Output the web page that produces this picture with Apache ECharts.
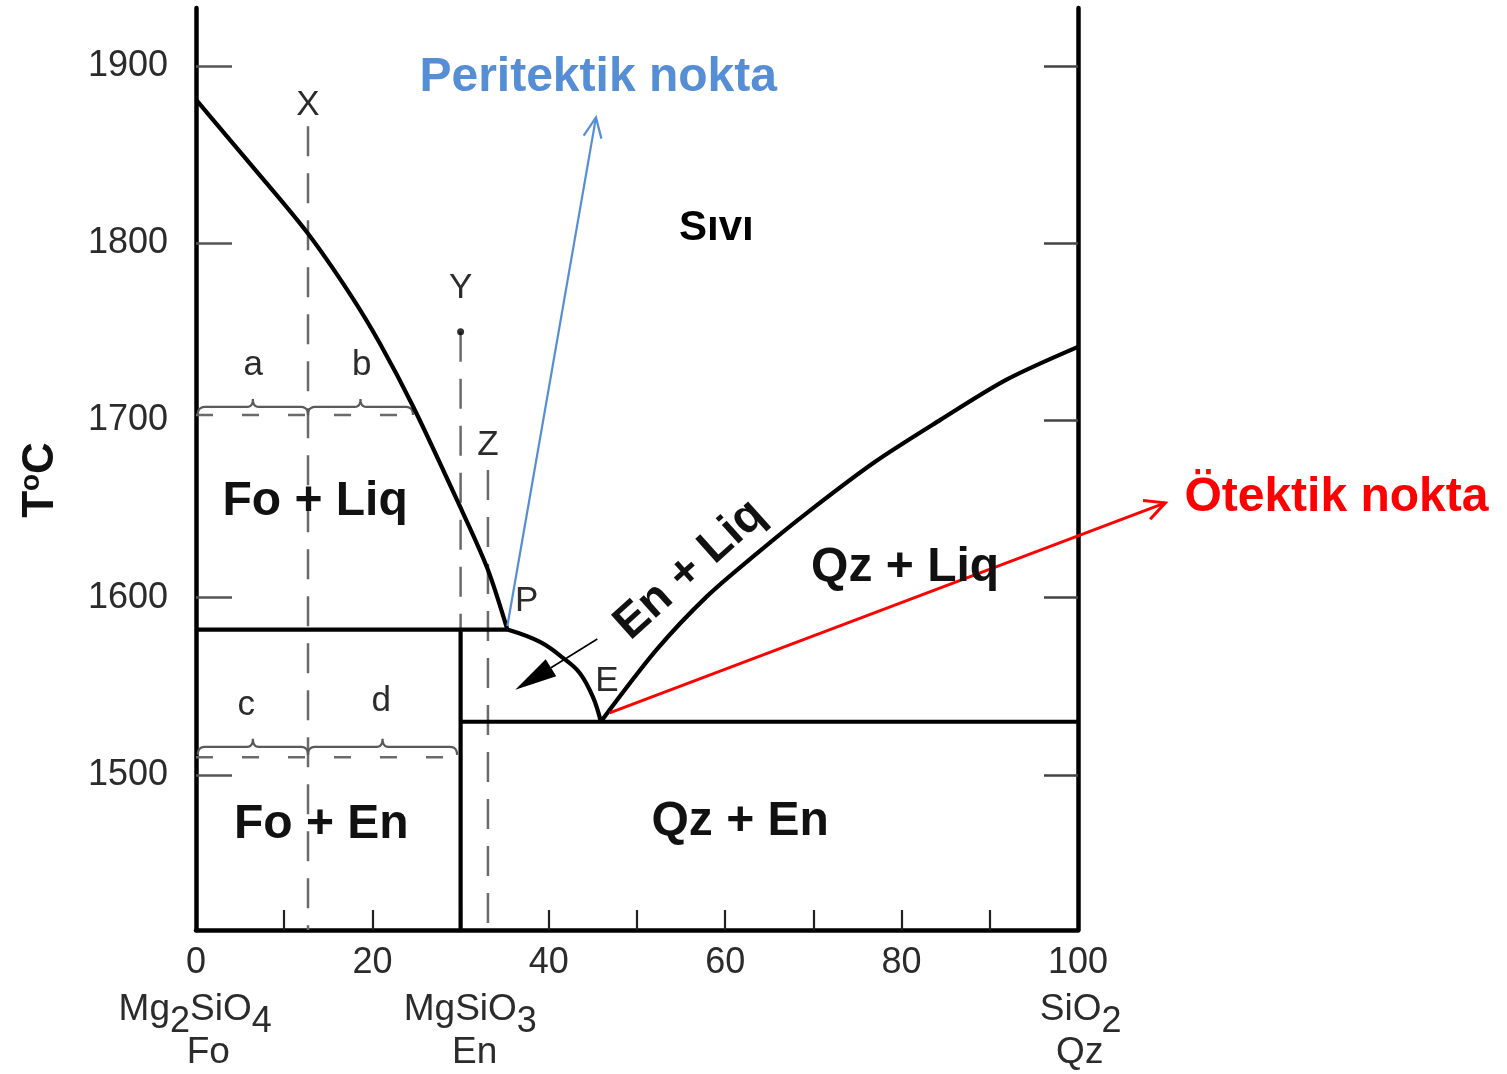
<!DOCTYPE html>
<html><head><meta charset="utf-8">
<script src="https://cdn.jsdelivr.net/npm/echarts@6/dist/echarts.min.js"></script>
<style>html,body{margin:0;padding:0;background:#fff}#c{width:1507px;height:1074px}</style>
</head><body><div id="c"></div>
<script>
// ---- axis values ----
const xTickLabels = [0, 20, 40, 60, 80, 100];
const xTickMarks = [10, 20, 30, 40, 50, 60, 70, 80, 90];
const yTickLabels = [1500, 1600, 1700, 1800, 1900];
const yTickMarksLeft = [1500, 1600, 1800, 1900];
const yTickMarksRight = [1500, 1600, 1700, 1800, 1900];
const yMin = 1412.5, yMax = 1932.7;

// ---- phase boundaries (wt% SiO2, T °C) ----
const foLiquidusX = [0, 6.1, 12.6, 17.5, 20.9, 24.6, 29.6, 33.0, 35.3];
const foLiquidusT = [1881, 1845, 1806, 1771, 1743, 1708, 1655, 1617, 1582];
const enLiquidusX = [35.3, 39.0, 41.6, 43.5, 45.0, 45.9];
const enLiquidusT = [1582, 1575, 1566, 1557.5, 1544, 1530];
const qzLiquidusX = [45.9, 52.2, 57.9, 63.6, 69.2, 76.8, 84.4, 91.9, 100];
const qzLiquidusT = [1530, 1570.5, 1600.6, 1625, 1647.6, 1676, 1700.3, 1723, 1741.5];
const peritecticX = [0, 35.3];
const peritecticT = [1582, 1582];
const eutecticX = [30, 100];
const eutecticT = [1530, 1530];
const enstatiteX = [30, 30];
const enstatiteT = [1582, yMin];

// ---- isopleths X, Y, Z ----
const isoX = [12.7, 30.0, 33.1];
const isoTopT = [1866, 1750, 1672];

// ---- cooling levels (dashed) and braces a/b, c/d ----
const levelT = [1703, 1510];
const levelEndX = [24.6, 29.7];
const braceFrom = [0.2, 12.7, 0.2, 12.7];
const braceTo = [12.7, 24.6, 12.7, 29.6];
const braceT = [1707.6, 1707.6, 1515.8, 1515.8];

// ---- arrows ----
const blueArrow = [35.3, 1584, 45.35, 1871];
const redArrow = [46.9, 1535, 109.9, 1653.5];
const blackArrow = [45.5, 1576.7, 36.2, 1548];
const dotY = [30, 1750];

// ---- texts ----
const labelTexts = ['X', 'Y', 'Z', 'a', 'b', 'c', 'd', 'P', 'E',
  'Fo + Liq', 'Fo + En', 'Qz + En', 'Qz + Liq', 'En + Liq', 'Sıvı',
  'Peritektik nokta', 'Ötektik nokta', '{n|T}{sup|o}{n|C}',
  '{m|Mg}{sub|2}{m|SiO}{sub|4}', 'Fo', '{m|MgSiO}{sub|3}', 'En', '{m|SiO}{sub|2}', 'Qz'];
const labelX = [12.7, 30.0, 33.1, 6.5, 18.8, 5.7, 21.0, 37.5, 46.6,
  13.5, 14.2, 61.7, 80.4, 56.0, 59.0,
  45.6, 129.3, -17.7,
  -0.1, 1.4, 31.1, 31.6, 100.3, 100.2];
const labelT = [1878, 1774.8, 1686.2, 1731.3, 1731.3, 1539.5, 1541.7, 1598.2, 1553,
  1654, 1471.8, 1473.5, 1616.8, 1615.7, 1808.6,
  1893.2, 1656.3, 1666.4,
  1360.5, 1343.2, 1360.5, 1343.2, 1360.5, 1343.2];
const labelKind = ['small', 'small', 'small', 'small', 'small', 'small', 'small', 'small', 'small',
  'phase', 'phase', 'phase', 'phase', 'phaseRot', 'sivi',
  'blue', 'red', 'axisName',
  'compound', 'compound', 'compound', 'compound', 'compound', 'compound'];

const FONT = '"Liberation Sans", Arial, Helvetica, sans-serif';
const kindStyle = {
  small: {fontSize: 35, fontWeight: 'normal', fill: '#2b2b2b'},
  phase: {fontSize: 48, fontWeight: 'bold', fill: '#111'},
  phaseRot: {fontSize: 47, fontWeight: 'bold', fill: '#111', rot: 42},
  sivi: {fontSize: 42, fontWeight: 'bold', fill: '#000'},
  blue: {fontSize: 48, fontWeight: 'bold', fill: '#558ed5'},
  red: {fontSize: 48, fontWeight: 'bold', fill: '#ff0000'},
  axisName: {fontSize: 44, fontWeight: 'bold', fill: '#111', rot: 90},
  compound: {fontSize: 37, fontWeight: 'normal', fill: '#2b2b2b'}
};
const richStyles = {
  n: {fontSize: 44, fontWeight: 'bold', fontFamily: FONT, fill: '#111', lineHeight: 46, verticalAlign: 'bottom'},
  sup: {fontSize: 28, fontWeight: 'bold', fontFamily: FONT, fill: '#111', lineHeight: 30, verticalAlign: 'top'},
  m: {fontSize: 37, fontFamily: FONT, fill: '#2b2b2b', lineHeight: 40, verticalAlign: 'top'},
  sub: {fontSize: 36, fontFamily: FONT, fill: '#2b2b2b', lineHeight: 62, verticalAlign: 'middle'}
};

function pairs(xs, ts) { return xs.map((x, i) => [x, ts[i]]); }

const chart = echarts.init(document.getElementById('c'), null, {renderer: 'canvas'});

const solid = (name, xs, ts, smooth) => ({
  type: 'line', name, data: pairs(xs, ts), symbol: 'none', silent: true, clip: false,
  smooth: smooth || false,
  lineStyle: {color: '#000', width: 4.2, cap: 'butt'}, z: 5
});
const dashedV = isoX.map((x, i) => ({
  type: 'line', data: [[x, isoTopT[i]], [x, yMin]], symbol: 'none', silent: true,
  lineStyle: {color: '#6a6a6a', width: 2.5, type: [30, 17]}, z: 3
}));
const dashedH = levelT.map((t, i) => ({
  type: 'line', data: [[0, t], [levelEndX[i], t]], symbol: 'none', silent: true,
  lineStyle: {color: '#6a6a6a', width: 2.5, type: [17, 29]}, z: 3
}));

function quad(p0, p1, p2, n) {
  const out = [];
  for (let k = 1; k <= n; k++) {
    const s = k / n, a = (1 - s) * (1 - s), b = 2 * (1 - s) * s, c = s * s;
    out.push([a * p0[0] + b * p1[0] + c * p2[0], a * p0[1] + b * p1[1] + c * p2[1]]);
  }
  return out;
}

function braceItem(params, api) {
  const p1 = api.coord([api.value(0), api.value(2)]);
  const p2 = api.coord([api.value(1), api.value(2)]);
  const y = p1[1], x1 = p1[0], x2 = p2[0], m = (x1 + x2) / 2, h = 8;
  let pts = [[x1, y + h]];
  pts = pts.concat(quad([x1, y + h], [x1, y], [x1 + 7, y], 6));
  pts.push([m - 6, y]);
  pts = pts.concat(quad([m - 6, y], [m, y], [m, y - h], 6));
  pts = pts.concat(quad([m, y - h], [m, y], [m + 6, y], 6));
  pts.push([x2 - 7, y]);
  pts = pts.concat(quad([x2 - 7, y], [x2, y], [x2, y + h], 6));
  return {type: 'polyline', shape: {points: pts}, style: {stroke: '#5a5a5a', lineWidth: 2.2, fill: null}};
}

function arrowRenderer(color, width, headLen, headHalf, filled) {
  return function (params, api) {
    const a = api.coord([api.value(0), api.value(1)]);
    const b = api.coord([api.value(2), api.value(3)]);
    const dx = b[0] - a[0], dy = b[1] - a[1], L = Math.hypot(dx, dy);
    const ux = dx / L, uy = dy / L;
    const bx = b[0] - ux * headLen, by = b[1] - uy * headLen;
    const l = [bx - uy * headHalf, by + ux * headHalf];
    const r = [bx + uy * headHalf, by - ux * headHalf];
    const children = [{type: 'line', shape: {x1: a[0], y1: a[1], x2: filled ? bx : b[0], y2: filled ? by : b[1]},
      style: {stroke: color, lineWidth: width}}];
    if (filled) children.push({type: 'polygon', shape: {points: [b, l, r]}, style: {fill: color}});
    else children.push({type: 'polyline', shape: {points: [l, [b[0], b[1]], r]}, style: {stroke: color, lineWidth: width, fill: null}});
    return {type: 'group', children};
  };
}

function labelItem(params, api) {
  const i = params.dataIndex;
  const st = kindStyle[labelKind[i]];
  const p = api.coord([api.value(0), api.value(1)]);
  return {
    type: 'text', x: p[0], y: p[1], rotation: (st.rot || 0) * Math.PI / 180,
    style: {
      text: labelTexts[i], fill: st.fill, fontSize: st.fontSize, fontWeight: st.fontWeight,
      fontFamily: FONT, align: 'center', verticalAlign: 'middle',
      rich: richStyles
    }
  };
}

const axisTextStyle = {fontSize: 36, color: '#2b2b2b', fontFamily: FONT};

chart.setOption({
  animation: false,
  backgroundColor: '#fff',
  grid: {left: 196, right: 429, top: 8, bottom: 144, containLabel: false},
  xAxis: {
    type: 'value', min: 0, max: 100, interval: 10,
    axisLine: {show: true, onZero: false, lineStyle: {color: '#000', width: 4.5}},
    axisTick: {show: true, inside: true, length: 20, customValues: xTickMarks, lineStyle: {color: '#222', width: 2.2}},
    axisLabel: {customValues: xTickLabels, margin: 15, formatter: v => String(v), ...axisTextStyle},
    splitLine: {show: false}
  },
  yAxis: [{
    type: 'value', min: yMin, max: yMax, position: 'left',
    axisLine: {show: true, onZero: false, lineStyle: {color: '#000', width: 4.5}},
    axisTick: {show: true, inside: true, length: 36, customValues: yTickMarksLeft, lineStyle: {color: '#555', width: 2.5}},
    axisLabel: {customValues: yTickLabels, margin: 28, formatter: v => String(Math.round(v)), ...axisTextStyle},
    splitLine: {show: false}
  }, {
    type: 'value', min: yMin, max: yMax, position: 'right',
    axisLine: {show: true, onZero: false, lineStyle: {color: '#000', width: 4.5}},
    axisTick: {show: true, inside: true, length: 34, customValues: yTickMarksRight, lineStyle: {color: '#444', width: 2.5}},
    axisLabel: {show: false},
    splitLine: {show: false}
  }],
  series: [
    ...dashedV, ...dashedH,
    solid('foLiquidus', foLiquidusX, foLiquidusT, 0.3),
    solid('enLiquidus', enLiquidusX, enLiquidusT, 0.4),
    solid('qzLiquidus', qzLiquidusX, qzLiquidusT, 0.3),
    solid('peritectic', peritecticX, peritecticT),
    solid('eutectic', eutecticX, eutecticT),
    solid('enstatite', enstatiteX, enstatiteT),
    {type: 'custom', renderItem: braceItem, encode: {x: [0, 1], y: 2}, silent: true, z: 4,
      data: braceFrom.map((x, i) => [x, braceTo[i], braceT[i]])},
    {type: 'custom', renderItem: arrowRenderer('#558ed5', 2.2, 20, 9, false), encode: {x: [0, 2], y: [1, 3]}, silent: true, z: 8, data: [blueArrow]},
    {type: 'custom', renderItem: arrowRenderer('#ff0000', 3, 20, 10, false), encode: {x: [0, 2], y: [1, 3]}, silent: true, z: 8, data: [redArrow]},
    {type: 'custom', renderItem: arrowRenderer('#000', 1.6, 42, 10, true), encode: {x: [0, 2], y: [1, 3]}, silent: true, z: 8, data: [blackArrow]},
    {type: 'scatter', data: [dotY], symbol: 'circle', symbolSize: 7, itemStyle: {color: '#000'}, silent: true, z: 6},
    {type: 'custom', renderItem: labelItem, encode: {x: 0, y: 1}, silent: true, z: 10,
      data: pairs(labelX, labelT)}
  ]
});
</script>
</body></html>
